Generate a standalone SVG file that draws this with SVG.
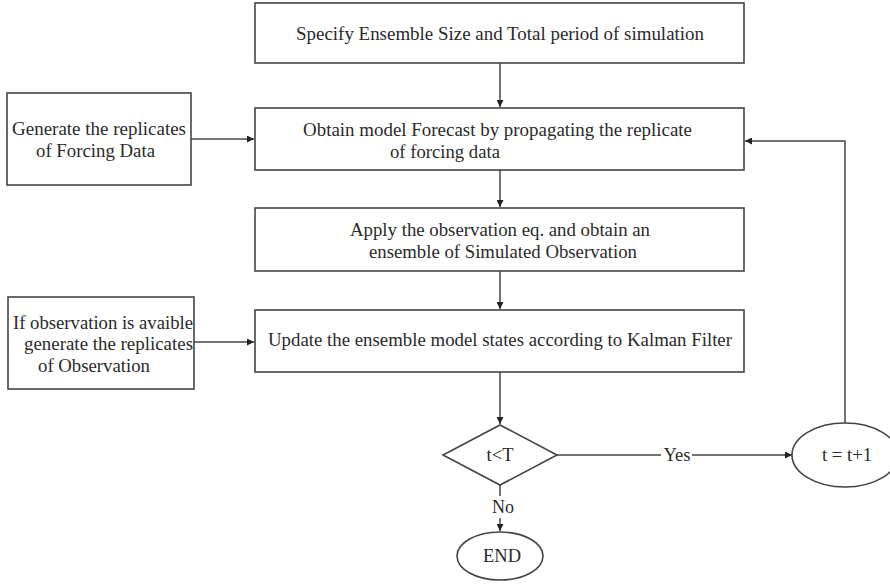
<svg xmlns="http://www.w3.org/2000/svg" width="890" height="584" viewBox="0 0 890 584">
  <defs>
    <marker id="arrow" viewBox="0 0 10 10" refX="10" refY="5" markerWidth="7" markerHeight="7" markerUnits="userSpaceOnUse" orient="auto">
      <path d="M0,0 L10,5 L0,10 Z" fill="#222"/>
    </marker>
    <style>
      .box { fill: #ffffff; stroke: #444; stroke-width: 1.6; }
      .line { fill: none; stroke: #444; stroke-width: 1.5; }
      .label { font-family: 'Liberation Serif', 'Times New Roman', Tinos, 'DejaVu Serif', serif; font-size: 18px; fill: #2a2a2a; text-anchor: middle; }
    </style>
  </defs>
  <rect width="890" height="584" fill="#ffffff"/>

  <g id="connectors">
    <line class="line" x1="500" y1="63" x2="500" y2="107" marker-end="url(#arrow)"/>
    <line class="line" x1="191" y1="139" x2="254" y2="139" marker-end="url(#arrow)"/>
    <line class="line" x1="500" y1="170" x2="500" y2="207" marker-end="url(#arrow)"/>
    <line class="line" x1="500" y1="271" x2="500" y2="309" marker-end="url(#arrow)"/>
    <line class="line" x1="194" y1="342" x2="254" y2="342" marker-end="url(#arrow)"/>
    <line class="line" x1="500" y1="372" x2="500" y2="424" marker-end="url(#arrow)"/>
    <line class="line" x1="557" y1="455" x2="661" y2="455"/>
    <line class="line" x1="692" y1="455" x2="792" y2="455" marker-end="url(#arrow)"/>
    <polyline class="line" points="845,423 845,141 745,141" marker-end="url(#arrow)"/>
    <line class="line" x1="500" y1="485" x2="500" y2="496"/>
    <line class="line" x1="500" y1="518" x2="500" y2="531" marker-end="url(#arrow)"/>
    <text class="label" x="677" y="461" textLength="27" lengthAdjust="spacingAndGlyphs">Yes</text>
    <text class="label" x="503" y="513" textLength="22" lengthAdjust="spacingAndGlyphs">No</text>
  </g>

  <g id="specify">
    <rect class="box" x="255" y="3" width="489" height="60"/>
    <text class="label" x="500" y="40" textLength="408" lengthAdjust="spacingAndGlyphs">Specify Ensemble Size  and Total period of simulation</text>
  </g>

  <g id="forecast">
    <rect class="box" x="255" y="108" width="489" height="62"/>
    <text class="label" x="497.5" y="136" textLength="389" lengthAdjust="spacingAndGlyphs">Obtain model Forecast by propagating the replicate</text>
    <text class="label" x="445" y="158" textLength="110" lengthAdjust="spacingAndGlyphs">of forcing data</text>
  </g>

  <g id="forcing-replicates">
    <rect class="box" x="7" y="93" width="184" height="92"/>
    <text class="label" x="99" y="135" textLength="174" lengthAdjust="spacingAndGlyphs">Generate the replicates</text>
    <text class="label" x="95.5" y="157" textLength="119" lengthAdjust="spacingAndGlyphs">of Forcing Data</text>
  </g>

  <g id="observation-eq">
    <rect class="box" x="255" y="208" width="489" height="63"/>
    <text class="label" x="500" y="236" textLength="300" lengthAdjust="spacingAndGlyphs">Apply the observation eq. and obtain an</text>
    <text class="label" x="503" y="258" textLength="268" lengthAdjust="spacingAndGlyphs">ensemble of Simulated Observation</text>
  </g>

  <g id="observation-replicates">
    <rect class="box" x="8" y="297" width="186" height="92"/>
    <text class="label" x="103" y="329" textLength="180" lengthAdjust="spacingAndGlyphs">If observation is avaible</text>
    <text class="label" x="108.5" y="350" textLength="169" lengthAdjust="spacingAndGlyphs">generate the replicates</text>
    <text class="label" x="94" y="372" textLength="112" lengthAdjust="spacingAndGlyphs">of Observation</text>
  </g>

  <g id="update">
    <rect class="box" x="255" y="310" width="489" height="62"/>
    <text class="label" x="500" y="346" textLength="464" lengthAdjust="spacingAndGlyphs">Update the ensemble model states according to Kalman Filter</text>
  </g>

  <g id="decision">
    <polygon class="box" points="500,425 557,455 500,485 443,455"/>
    <text class="label" x="500" y="461" textLength="27" lengthAdjust="spacingAndGlyphs">t&lt;T</text>
  </g>

  <g id="increment">
    <ellipse class="box" cx="845" cy="455" rx="53" ry="32"/>
    <text class="label" x="847" y="461" textLength="50" lengthAdjust="spacingAndGlyphs">t = t+1</text>
  </g>

  <g id="end">
    <ellipse class="box" cx="500" cy="556" rx="43" ry="24"/>
    <text class="label" x="502" y="562" textLength="38" lengthAdjust="spacingAndGlyphs">END</text>
  </g>
</svg>
